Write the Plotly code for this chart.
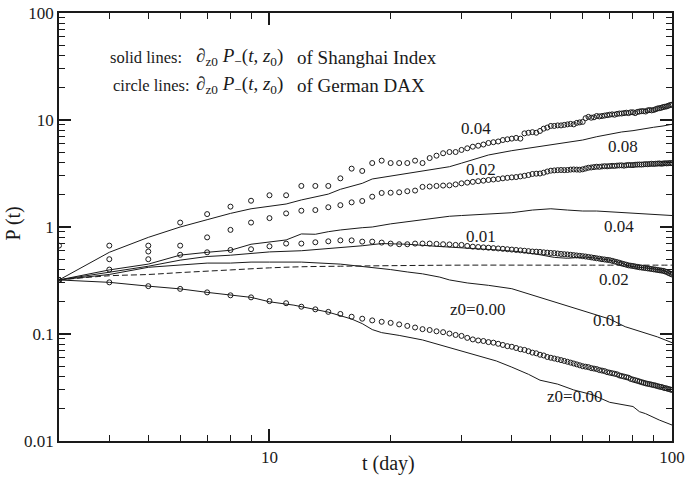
import plotly.graph_objects as go

# Trading-day axis for the DAX series (one point per day)
days = list(range(3, 101))

# German DAX: dP/dz0 for z0 = 0.00, 0.01, 0.02, 0.04 (open circles)
dax_000 = [0.32, 0.304, 0.28, 0.264, 0.245, 0.23, 0.22, 0.203,
           0.194, 0.18, 0.17, 0.161, 0.154, 0.145, 0.139, 0.134, 0.130, 0.127,
           0.123, 0.119, 0.115, 0.111, 0.109, 0.106, 0.104, 0.101, 0.098, 0.096,
           0.092, 0.089, 0.087, 0.086, 0.084, 0.083, 0.081, 0.079, 0.077, 0.076,
           0.074, 0.072, 0.071, 0.069, 0.067, 0.066, 0.064, 0.063, 0.061, 0.060,
           0.059, 0.058, 0.057, 0.056, 0.055, 0.054, 0.053, 0.052, 0.051, 0.050,
           0.0495, 0.049, 0.048, 0.0475, 0.047, 0.046, 0.0455, 0.045, 0.044, 0.0435,
           0.043, 0.0425, 0.042, 0.041, 0.0405, 0.040, 0.0395, 0.039, 0.038, 0.0375,
           0.037, 0.0365, 0.036, 0.0355, 0.035, 0.0346, 0.0342, 0.034, 0.0336, 0.0333,
           0.033, 0.0326, 0.0322, 0.032, 0.0316, 0.0312, 0.031, 0.0306, 0.0303, 0.030]
dax_001 = [0.32, 0.40, 0.50, 0.55, 0.58, 0.61, 0.62, 0.66,
           0.70, 0.70, 0.72, 0.735, 0.75, 0.75, 0.73, 0.73, 0.715, 0.70,
           0.69, 0.69, 0.70, 0.70, 0.70, 0.695, 0.69, 0.687, 0.68, 0.68,
           0.665, 0.655, 0.65, 0.645, 0.64, 0.635, 0.63, 0.625, 0.62, 0.615,
           0.61, 0.605, 0.60, 0.595, 0.59, 0.588, 0.585, 0.58, 0.576, 0.572,
           0.57, 0.565, 0.56, 0.557, 0.554, 0.55, 0.546, 0.542, 0.538, 0.534,
           0.53, 0.525, 0.52, 0.515, 0.51, 0.506, 0.50, 0.497, 0.493, 0.49,
           0.483, 0.476, 0.47, 0.463, 0.456, 0.45, 0.444, 0.438, 0.435, 0.432,
           0.428, 0.424, 0.42, 0.418, 0.415, 0.413, 0.41, 0.408, 0.405, 0.402,
           0.40, 0.397, 0.394, 0.392, 0.39, 0.385, 0.38, 0.372, 0.366, 0.36]
dax_002 = [0.32, 0.50, 0.59, 0.67, 0.80, 0.94, 1.10, 1.21,
           1.34, 1.42, 1.44, 1.53, 1.60, 1.70, 1.75, 1.92, 2.08, 2.09,
           2.11, 2.16, 2.19, 2.37, 2.39, 2.42, 2.44, 2.45, 2.50, 2.56,
           2.60, 2.64, 2.68, 2.71, 2.75, 2.78, 2.81, 2.85, 2.88, 2.91,
           2.93, 2.97, 3.01, 3.06, 3.13, 3.15, 3.16, 3.22, 3.30, 3.36,
           3.38, 3.40, 3.41, 3.40, 3.41, 3.44, 3.45, 3.44, 3.43, 3.46,
           3.52, 3.58, 3.60, 3.63, 3.66, 3.65, 3.68, 3.70, 3.69, 3.71,
           3.73, 3.72, 3.75, 3.76, 3.77, 3.74, 3.78, 3.80, 3.79, 3.79,
           3.82, 3.83, 3.84, 3.83, 3.85, 3.87, 3.86, 3.88, 3.90, 3.88,
           3.90, 3.91, 3.93, 3.90, 3.92, 3.94, 3.93, 3.95, 3.96, 3.95]
dax_004 = [0.67, 0.67, 0.67, 1.10, 1.32, 1.55, 1.76, 1.98,
           1.98, 2.42, 2.42, 2.42, 2.85, 3.51, 3.34, 3.96, 4.17, 3.96,
           3.96, 3.96, 4.17, 3.96, 4.41, 4.64, 4.89, 5.02, 5.02, 5.25,
           5.44, 5.63, 5.75, 5.90, 6.10, 6.20, 6.30, 6.50, 6.60, 6.70,
           6.80, 6.70, 7.50, 7.60, 7.70, 7.60, 7.90, 8.30, 8.50, 8.80,
           8.80, 8.90, 8.90, 9.00, 9.10, 9.20, 9.10, 9.40, 9.50, 9.60,
           10.4, 10.7, 10.5, 10.6, 10.9, 10.8, 10.9, 11.0, 11.1, 11.2,
           11.3, 11.2, 11.4, 11.5, 11.5, 11.6, 11.7, 11.6, 11.8, 11.8,
           11.6, 11.9, 12.0, 12.1, 12.1, 12.0, 12.3, 12.4, 12.3, 12.4,
           12.6, 12.8, 12.9, 13.0, 13.2, 13.3, 13.4, 13.6, 13.8, 13.9]

# Shanghai Index: dP/dz0 (solid lines), sampled days and values
sh_000_t = [3, 4, 5, 6, 7, 8, 9, 10, 11.5, 14, 15, 16, 17, 18, 19, 21, 24, 28.6, 32.3,
            36.6, 40, 44, 47, 52, 57, 63.5, 70, 75, 80, 83, 86, 93, 100]
sh_000 = [0.32, 0.304, 0.28, 0.264, 0.245, 0.23, 0.22, 0.20, 0.186, 0.16, 0.148, 0.138,
          0.125, 0.11, 0.103, 0.097, 0.088, 0.073, 0.064, 0.056, 0.049, 0.042, 0.037,
          0.034, 0.030, 0.027, 0.023, 0.022, 0.021, 0.0188, 0.018, 0.0157, 0.0141]
sh_001_t = [3, 4, 5, 6, 7, 8, 9, 10, 12, 15, 17, 19, 20, 22, 24, 26.5, 28, 31, 35, 40,
            47, 52.6, 63.5, 70, 76.5, 85, 92, 100]
sh_001 = [0.32, 0.36, 0.42, 0.44, 0.46, 0.46, 0.47, 0.47, 0.47, 0.45, 0.43, 0.41, 0.40,
          0.38, 0.365, 0.34, 0.32, 0.30, 0.285, 0.265, 0.22, 0.194, 0.156, 0.138, 0.117,
          0.104, 0.094, 0.083]
sh_002_t = [3, 4, 5, 6, 7, 8, 9, 10, 12, 15, 17, 19, 22, 26, 30, 33, 37, 42, 47, 51, 55,
            61, 65, 70, 75, 78.5, 88, 95, 100]
sh_002 = [0.32, 0.38, 0.43, 0.49, 0.53, 0.545, 0.57, 0.585, 0.60, 0.641, 0.668, 0.70,
          0.69, 0.66, 0.633, 0.625, 0.61, 0.587, 0.55, 0.52, 0.51, 0.525, 0.51, 0.49,
          0.46, 0.43, 0.41, 0.395, 0.36]
sh_004_t = [3, 4, 5, 6, 7, 8, 9, 10, 11, 12, 13, 14, 15, 17, 18, 20, 22, 24, 26, 28, 30,
            33, 35, 40, 45, 50, 55, 60, 65, 70, 75, 80, 85, 90, 95, 100]
sh_004 = [0.32, 0.397, 0.45, 0.546, 0.58, 0.606, 0.69, 0.73, 0.757, 0.861, 0.855, 0.904,
          0.938, 0.985, 1.0, 1.07, 1.12, 1.16, 1.22, 1.26, 1.28, 1.31, 1.32, 1.36, 1.44,
          1.48, 1.44, 1.41, 1.41, 1.39, 1.36, 1.34, 1.33, 1.32, 1.29, 1.28]
sh_008_t = [3, 4, 5, 6, 7, 8, 9, 10, 11, 12, 13, 14, 15, 16, 17, 18, 19, 20, 22, 24, 26,
            28, 30, 32, 34, 35, 40, 45, 50, 55, 60, 65, 70, 75, 80, 85, 90, 95, 100]
sh_008 = [0.32, 0.58, 0.80, 1.0, 1.17, 1.34, 1.48, 1.55, 1.64, 1.79, 1.92, 2.03, 2.25,
          2.42, 2.56, 2.81, 2.90, 2.97, 3.14, 3.29, 3.46, 3.66, 3.95, 4.25, 4.55, 4.71,
          5.17, 5.51, 5.83, 6.14, 6.50, 6.98, 7.40, 7.73, 7.95, 8.29, 8.55, 8.79, 9.12]

# Reference (dashed) curve
ref_t = [3, 4, 5, 6, 8, 10, 12, 15, 20, 30, 50, 100]
ref_p = [0.32, 0.35, 0.36, 0.375, 0.397, 0.415, 0.425, 0.43, 0.435, 0.44, 0.44, 0.44]

# Curve labels: (text, log10 t, log10 P)
curve_labels = [
    ("0.04", 1.513, 0.922), ("0.08", 1.879, 0.750), ("0.02", 1.526, 0.533),
    ("0.04", 1.868, 0.003), ("0.01", 1.526, -0.091), ("0.02", 1.855, -0.495),
    ("z0=0.00", 1.516, -0.773), ("0.01", 1.840, -0.872), ("z0=0.00", 1.758, -1.582),
]

FONT = "Liberation Serif"
INK = "#1a1a1a"

# plot-area geometry in pixels, used to place the explanatory text
L, R, T, B = 59, 672, 13, 441


def px(x):
    return (x - L) / (R - L)


def py(y):
    return (B - y) / (B - T)


fig = go.Figure()

for t, p in [(sh_008_t, sh_008), (sh_004_t, sh_004), (sh_002_t, sh_002),
             (sh_001_t, sh_001), (sh_000_t, sh_000)]:
    fig.add_trace(go.Scatter(x=t, y=p, mode="lines",
                             line=dict(color=INK, width=1), showlegend=False))

fig.add_trace(go.Scatter(x=ref_t, y=ref_p, mode="lines",
                         line=dict(color=INK, width=1, dash="6px,3px"),
                         line_shape="spline", showlegend=False))

for p in [dax_004, dax_002, dax_001, dax_000]:
    fig.add_trace(go.Scatter(x=days, y=p, mode="markers",
                             marker=dict(symbol="circle-open", size=5,
                                         color=INK, line=dict(width=1, color=INK)),
                             showlegend=False))

annotations = []
for text, lx, ly in curve_labels:
    annotations.append(dict(x=lx, y=ly, xref="x", yref="y", text=text,
                            xanchor="center", yanchor="middle",
                            showarrow=False, font=dict(family=FONT, size=17, color=INK)))

deriv = "∂<sub>z0</sub> <i>P</i><sub>−</sub>(<i>t</i>, <i>z</i><sub>0</sub>)"
key_rows = [
    ("solid lines:", 108, "of Shanghai Index", 57),
    ("circle lines:", 111, "of German DAX", 85),
]
for head, x0, tail, yc in key_rows:
    for text, x, size in [(head, x0, 16.5), (deriv, 194, 19), (tail, 295, 19)]:
        annotations.append(dict(x=px(x), y=py(yc), xref="paper", yref="paper",
                                xanchor="left", yanchor="middle", showarrow=False,
                                text=text, font=dict(family=FONT, size=size, color=INK)))

annotations.append(dict(x=px(12.5), y=py(224), xref="paper", yref="paper",
                        xanchor="center", yanchor="middle",
                        text="P (t)", textangle=-90, showarrow=False,
                        font=dict(family=FONT, size=20, color=INK)))
annotations.append(dict(x=px(388), y=py(463), xref="paper", yref="paper",
                        xanchor="center", yanchor="middle",
                        text="t (day)", showarrow=False,
                        font=dict(family=FONT, size=20, color=INK)))

axis_common = dict(
    type="log", showgrid=False, zeroline=False, showline=True, linecolor=INK,
    linewidth=1.5, mirror="ticks", ticks="inside", ticklen=12, tickwidth=1.5,
    tickcolor=INK, dtick=1, automargin=False,
    minor=dict(ticks="inside", ticklen=6, tickwidth=1, tickcolor=INK,
               dtick="D1", showgrid=False),
    tickfont=dict(family=FONT, size=17, color=INK),
)

fig.update_layout(
    template="none",
    width=685, height=492,
    margin=dict(l=L, r=685 - R, t=T, b=492 - B),
    paper_bgcolor="white", plot_bgcolor="white",
    xaxis=dict(range=[0.4771, 2], tick0=0, **axis_common),
    yaxis=dict(range=[-2, 2], tick0=0, **axis_common),
    annotations=annotations,
)

fig.write_html("out.html")
